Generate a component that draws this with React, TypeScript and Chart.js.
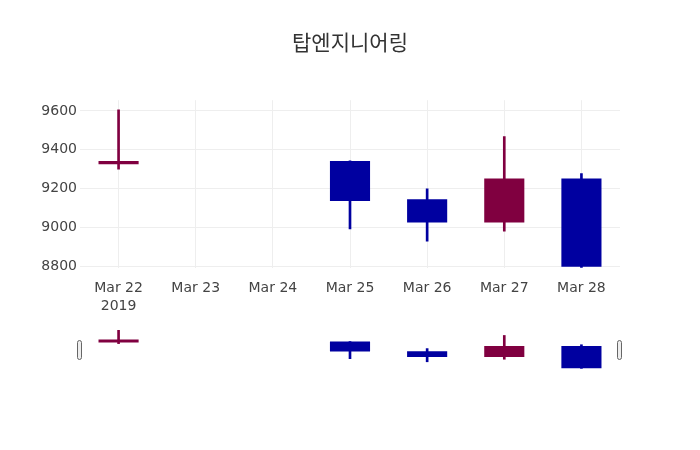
import { useEffect, useRef } from 'react'
import { Chart, registerables } from 'chart.js'

Chart.register(...registerables)

const TITLE = '탑엔지니어링'
const DATES = ['Mar 22', 'Mar 23', 'Mar 24', 'Mar 25', 'Mar 26', 'Mar 27', 'Mar 28']
const YEAR = '2019'
const OPEN = [9325, null, null, 9342, 9145, 9025, 9252]
const CLOSE = [9342, null, null, 9136, 9025, 9252, 8796]
const HIGH = [9605, null, null, 9342, 9198, 9467, 9277]
const LOW = [9300, null, null, 8992, 8928, 8980, 8793]
const Y_TICKS = [8800, 9000, 9200, 9400, 9600]

const UP = '#800040'
const DOWN = '#0000a0'
const GRID = '#eeeeee'
const TEXT = '#444444'

const colors = OPEN.map((o, i) => (o == null ? 'transparent' : (CLOSE[i] as number) >= o ? UP : DOWN))
const bodies = OPEN.map((o, i) => (o == null ? null : [o, CLOSE[i] as number]))
const wicks = LOW.map((l, i) => (l == null ? null : [l, HIGH[i] as number]))
const labels = DATES.map((d, i) => (i === 0 ? [d, YEAR] : d))

function candleSets(minLen: number) {
  return [
    { data: bodies, backgroundColor: colors, grouped: false, barPercentage: 0.52, categoryPercentage: 1, minBarLength: minLen, borderWidth: 0 },
    { data: wicks, backgroundColor: colors, grouped: false, barThickness: 2, borderWidth: 0 },
  ]
}

// little grab handles at both ends of the range slider
const handles = {
  id: 'handles',
  afterDraw(chart: Chart) {
    const { ctx, chartArea: { left, right, top, bottom } } = chart
    const cy = (top + bottom) / 2
    ctx.save()
    ctx.fillStyle = '#eeeeee'
    ctx.strokeStyle = '#666666'
    ctx.lineWidth = 1
    for (const x of [left, right]) {
      ctx.beginPath()
      ctx.roundRect(Math.round(x) - 2.5, Math.round(cy - 10) + 0.5, 4, 19, 2)
      ctx.fill()
      ctx.stroke()
    }
    ctx.restore()
  },
}

export default function App() {
  const mainRef = useRef<HTMLCanvasElement>(null)
  const sliderRef = useRef<HTMLCanvasElement>(null)

  useEffect(() => {
    document.body.style.margin = '0'
    Chart.defaults.font.family = "'DejaVu Sans', sans-serif"
    Chart.defaults.font.size = 14
    Chart.defaults.color = TEXT

    const main = new Chart(mainRef.current!, {
      type: 'bar',
      data: { labels, datasets: candleSets(3) as any },
      options: {
        responsive: false, animation: false, events: [],
        layout: { padding: 0 },
        plugins: {
          legend: { display: false },
          tooltip: { enabled: false },
          title: {
            display: true, text: TITLE, color: '#333333',
            font: { family: "'Noto Sans CJK KR', sans-serif", size: 21, weight: 'normal', lineHeight: 1.2 },
            padding: { top: 29, bottom: 46 },
          },
        },
        scales: {
          x: {
            type: 'category', offset: true,
            grid: { offset: false, color: GRID, drawTicks: false },
            border: { display: false },
            ticks: { padding: 11, color: TEXT, maxRotation: 0, autoSkip: false, font: { lineHeight: 1.3 } },
            afterFit: (s: any) => { s.height = 52 },
          },
          y: {
            min: 8790, max: 9655,
            grid: { color: GRID, drawTicks: false },
            border: { display: false },
            ticks: { padding: 3, color: TEXT, callback: (v: any) => String(v) },
            afterBuildTicks: (s: any) => { s.ticks = Y_TICKS.map(v => ({ value: v })) },
            afterFit: (s: any) => { s.width = 80 },
          },
          pad: {
            type: 'linear', position: 'right', display: true,
            grid: { display: false }, border: { display: false }, ticks: { display: false },
            afterFit: (s: any) => { s.width = 80 },
          },
        },
      } as any,
    })

    const slider = new Chart(sliderRef.current!, {
      type: 'bar',
      data: { labels, datasets: candleSets(3) as any },
      options: {
        responsive: false, animation: false, events: [],
        layout: { padding: { left: 80, right: 80, top: 10, bottom: 81 } },
        plugins: { legend: { display: false }, tooltip: { enabled: false } },
        scales: {
          x: { type: 'category', offset: true, display: false },
          y: { min: 8780, max: 9579, display: false },
        },
      } as any,
      plugins: [handles],
    })

    return () => {
      main.destroy()
      slider.destroy()
    }
  }, [])

  return (
    <div style={{ width: 700, height: 450, background: '#fff' }}>
      <canvas ref={mainRef} width={700} height={320} style={{ display: 'block' }} />
      <canvas ref={sliderRef} width={700} height={130} style={{ display: 'block' }} />
    </div>
  )
}
